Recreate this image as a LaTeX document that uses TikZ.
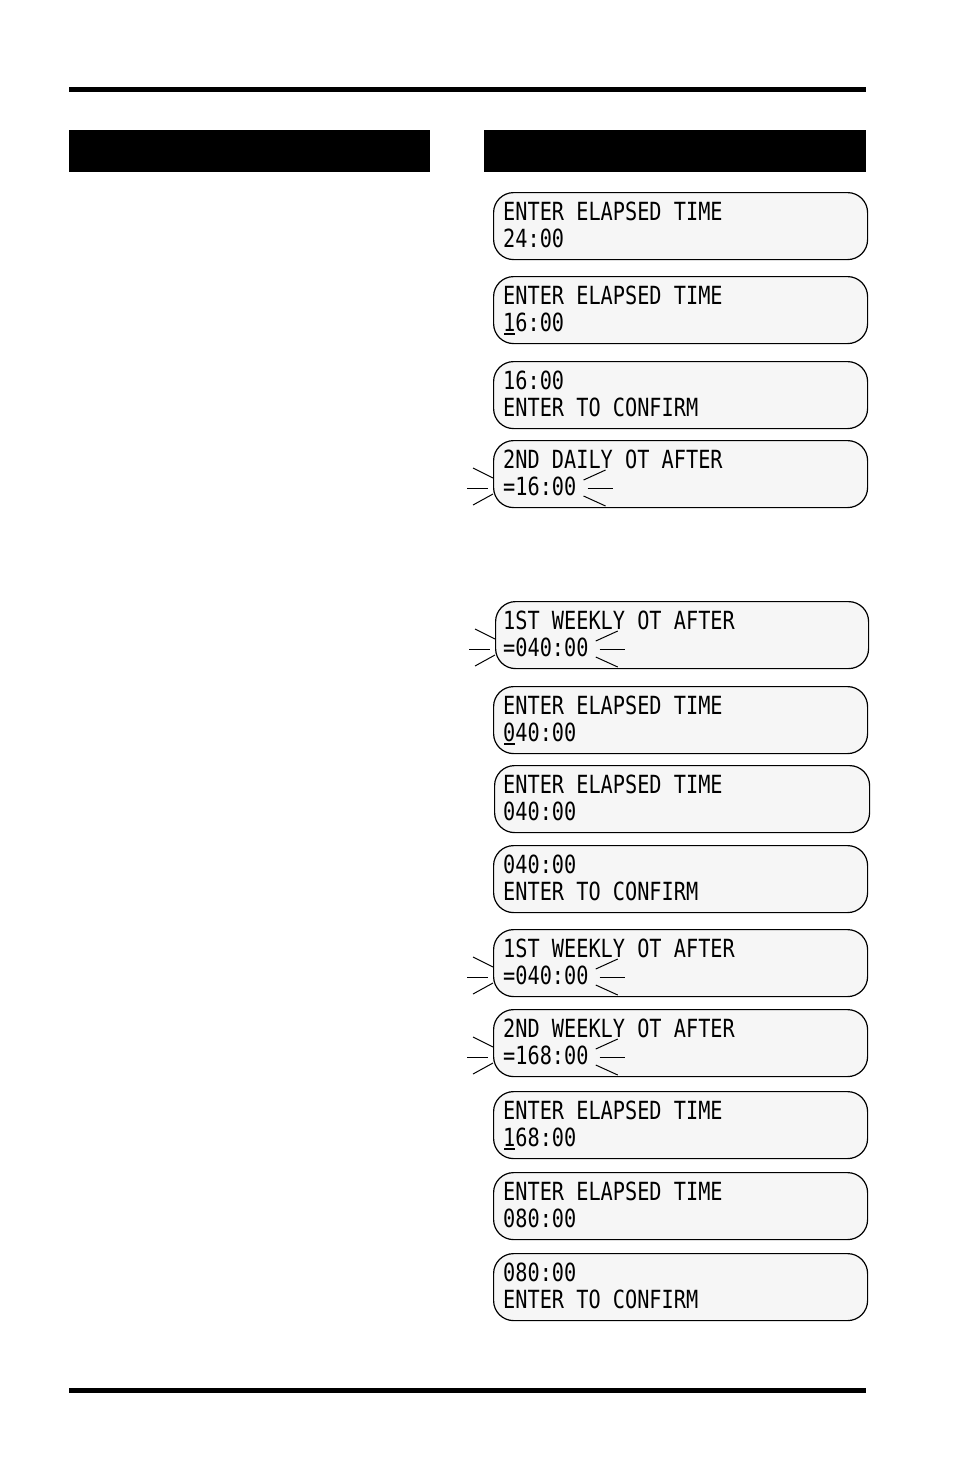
\documentclass[tikz,border=0pt]{standalone}
\usepackage{fontspec}
\newfontfamily\lcdfont[FakeStretch=0.81]{DejaVu Sans Mono}
\usetikzlibrary{calc}
\definecolor{lcdgray}{RGB}{246,246,246}
\begin{document}
\begin{tikzpicture}[x=1pt,y=-1pt,
  lcdbox/.style={draw=black, line width=1.2pt, fill=lcdgray, rounded corners=20pt,
    minimum height=67pt, inner sep=0pt, anchor=north west},
  lcdtext/.style={font=\lcdfont\fontsize{25}{25}\selectfont, inner sep=0pt, anchor=base west},
  flashline/.style={line width=1pt},
  cursorline/.style={line width=1.6pt},
  bar/.style={fill=black, draw=none}]
\useasboundingbox (0,0) rectangle (954,1475);
\fill[white] (0,0) rectangle (954,1475);

\newcommand\lcd[6]{%
  \node[lcdbox, minimum width=#4pt] (#1) at (#2,#3) {};
  \node[lcdtext] (#1a) at (503,#3+28) {#5};
  \node[lcdtext] (#1b) at (503,#3+55) {#6};
}
\newcommand\flash[1]{%
  \draw[flashline] ($(#1.north west)+(-20,28)$) -- ++(20,10);
  \draw[flashline] ($(#1.north west)+(-26,48)$) -- ++(21,0);
  \draw[flashline] ($(#1.north west)+(-20,65)$) -- ++(20,-11);
  \draw[flashline] ($(#1b.east |- #1.north)+(7,40)$) -- ++(22,-10);
  \draw[flashline] ($(#1b.east |- #1.north)+(11,48)$) -- ++(25,0);
  \draw[flashline] ($(#1b.east |- #1.north)+(7,56)$) -- ++(22,10);
}
\newcommand\cursor[1]{%
  \draw[cursorline] ($(#1b.base west)+(1,3)$) -- ++(11,0);
}

% rules and headers
\path[bar] (69,87) rectangle (866,92);
\path[bar] (69,1388) rectangle (866,1393);
\path[bar] (69,130) rectangle (430,172);
\path[bar] (484,130) rectangle (866,172);

\lcd{b1}{493}{192}{374}{ENTER ELAPSED TIME}{24:00}
\lcd{b2}{493}{276}{374}{ENTER ELAPSED TIME}{16:00}
\cursor{b2}
\lcd{b3}{493}{361}{374}{16:00}{ENTER TO CONFIRM}
\lcd{b4}{493}{440}{374}{2ND DAILY OT AFTER}{=16:00}
\flash{b4}
\lcd{b5}{495}{601}{373}{1ST WEEKLY OT AFTER}{=040:00}
\flash{b5}
\lcd{b6}{493}{686}{374}{ENTER ELAPSED TIME}{040:00}
\cursor{b6}
\lcd{b7}{494}{765}{375}{ENTER ELAPSED TIME}{040:00}
\lcd{b8}{493}{845}{374}{040:00}{ENTER TO CONFIRM}
\lcd{b9}{493}{929}{374}{1ST WEEKLY OT AFTER}{=040:00}
\flash{b9}
\lcd{b10}{493}{1009}{374}{2ND WEEKLY OT AFTER}{=168:00}
\flash{b10}
\lcd{b11}{493}{1091}{374}{ENTER ELAPSED TIME}{168:00}
\cursor{b11}
\lcd{b12}{493}{1172}{374}{ENTER ELAPSED TIME}{080:00}
\lcd{b13}{493}{1253}{374}{080:00}{ENTER TO CONFIRM}
\end{tikzpicture}
\end{document}
